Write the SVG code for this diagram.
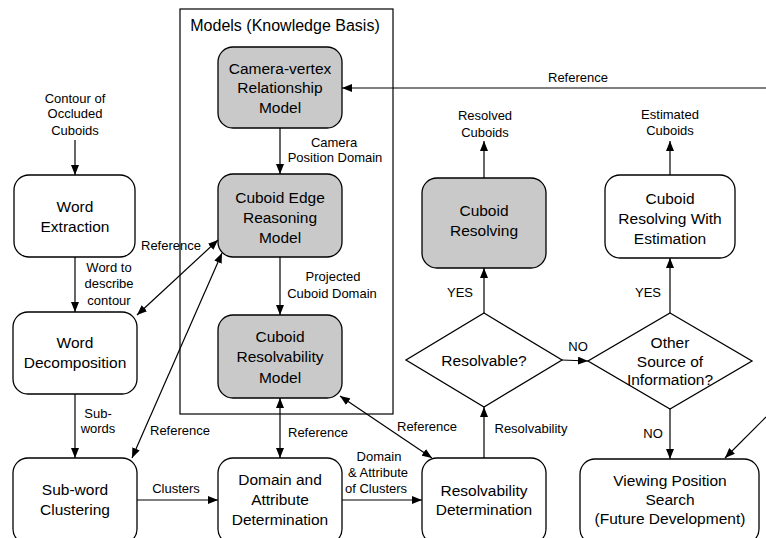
<svg xmlns="http://www.w3.org/2000/svg" width="766" height="538" viewBox="0 0 766 538">
<style>
.box{fill:#fff;stroke:#000;stroke-width:1.3}
.gray{fill:#c9c9c9;stroke:#000;stroke-width:1.3}
.frame{fill:none;stroke:#000;stroke-width:1.2}
.t{font-family:"Liberation Sans",Arial,sans-serif;font-size:15.5px;text-anchor:middle;fill:#000}
.l{font-family:"Liberation Sans",Arial,sans-serif;font-size:13px;text-anchor:middle;fill:#000}
.c line{stroke:#000;stroke-width:1.2;fill:none}
.a{marker-end:url(#ah)}
.b{marker-end:url(#ah);marker-start:url(#ah)}
</style>
<defs>
<marker id="ah" markerUnits="userSpaceOnUse" markerWidth="10" markerHeight="8" refX="10" refY="4" orient="auto-start-reverse" viewBox="0 0 10 8">
<path d="M0,0 L10,4 L0,8 z" fill="#000"/>
</marker>
</defs>
<rect width="766" height="538" fill="#fff"/>

<g id="models-frame">
<rect class="frame" x="180" y="9" width="213" height="405"/>
<text class="t" x="285" y="31" style="font-size:16px">Models (Knowledge Basis)</text>
</g>

<g id="camera-vertex">
<rect class="gray" x="218" y="47" width="124" height="81" rx="15"/>
<text class="t" x="280" y="74">Camera-vertex</text>
<text class="t" x="280" y="93">Relationship</text>
<text class="t" x="280" y="113">Model</text>
</g>

<g id="edge-reasoning">
<rect class="gray" x="218" y="174" width="124" height="83" rx="15"/>
<text class="t" x="280" y="203">Cuboid Edge</text>
<text class="t" x="280" y="223">Reasoning</text>
<text class="t" x="280" y="243">Model</text>
</g>

<g id="resolvability-model">
<rect class="gray" x="218" y="315" width="124" height="83" rx="15"/>
<text class="t" x="280" y="342">Cuboid</text>
<text class="t" x="280" y="362">Resolvability</text>
<text class="t" x="280" y="383">Model</text>
</g>

<g id="contour-input">
<text class="l" x="75" y="103">Contour of</text>
<text class="l" x="75" y="118">Occluded</text>
<text class="l" x="75" y="135">Cuboids</text>
</g>

<g id="word-extraction">
<rect class="box" x="14" y="175" width="121" height="82" rx="15"/>
<text class="t" x="75" y="212">Word</text>
<text class="t" x="75" y="232">Extraction</text>
</g>

<g id="word-decomposition">
<rect class="box" x="13" y="312" width="124" height="82" rx="15"/>
<text class="t" x="75" y="348">Word</text>
<text class="t" x="75" y="368">Decomposition</text>
</g>

<g id="subword-clustering">
<rect class="box" x="13" y="458" width="124" height="86" rx="15"/>
<text class="t" x="75" y="495">Sub-word</text>
<text class="t" x="75" y="515">Clustering</text>
</g>

<g id="domain-attribute">
<rect class="box" x="218" y="458" width="124" height="86" rx="15"/>
<text class="t" x="280" y="485">Domain and</text>
<text class="t" x="280" y="505">Attribute</text>
<text class="t" x="280" y="525">Determination</text>
</g>

<g id="resolvability-determination">
<rect class="box" x="422" y="458" width="124" height="86" rx="15"/>
<text class="t" x="484" y="496">Resolvability</text>
<text class="t" x="484" y="515">Determination</text>
</g>

<g id="resolvable-decision">
<polygon class="box" points="484,313 562,360 484,407 406,360"/>
<text class="t" x="484" y="366">Resolvable?</text>
</g>

<g id="cuboid-resolving">
<rect class="gray" x="422" y="178" width="124" height="90" rx="15"/>
<text class="t" x="484" y="216">Cuboid</text>
<text class="t" x="484" y="236">Resolving</text>
</g>

<g id="resolved-output">
<text class="l" x="485" y="120">Resolved</text>
<text class="l" x="485" y="137">Cuboids</text>
</g>

<g id="other-source-decision">
<polygon class="box" points="670,313 752,361 670,409 588,361"/>
<text class="t" x="670" y="348">Other</text>
<text class="t" x="670" y="367">Source of</text>
<text class="t" x="670" y="385">Information?</text>
</g>

<g id="resolving-estimation">
<rect class="box" x="605" y="175" width="130" height="83" rx="15"/>
<text class="t" x="670" y="204">Cuboid</text>
<text class="t" x="670" y="224">Resolving With</text>
<text class="t" x="670" y="244">Estimation</text>
</g>

<g id="estimated-output">
<text class="l" x="670" y="119">Estimated</text>
<text class="l" x="670" y="135">Cuboids</text>
</g>

<g id="viewing-position-search">
<rect class="box" x="580" y="459" width="179" height="85" rx="15"/>
<text class="t" x="670" y="486">Viewing Position</text>
<text class="t" x="670" y="505">Search</text>
<text class="t" x="670" y="524">(Future Development)</text>
</g>

<g id="connectors" class="c">
<line class="a" x1="75" y1="140" x2="75" y2="175"/>
<line class="a" x1="75" y1="257" x2="75" y2="312"/>
<line class="a" x1="75" y1="394" x2="75" y2="458"/>
<line class="a" x1="280" y1="128" x2="280" y2="174"/>
<line class="a" x1="280" y1="257" x2="280" y2="315"/>
<line class="b" x1="137" y1="315" x2="218" y2="240"/>
<line class="b" x1="132" y1="458" x2="222" y2="253"/>
<line class="b" x1="280" y1="398" x2="280" y2="458"/>
<line class="b" x1="340" y1="396" x2="432" y2="458"/>
<line class="a" x1="137" y1="500" x2="218" y2="500"/>
<line class="a" x1="342" y1="500" x2="422" y2="500"/>
<line class="a" x1="484" y1="458" x2="484" y2="407"/>
<line class="a" x1="484" y1="313" x2="484" y2="268"/>
<line class="a" x1="484" y1="178" x2="484" y2="141"/>
<line class="a" x1="562" y1="360" x2="588" y2="361"/>
<line class="a" x1="670" y1="313" x2="670" y2="258"/>
<line class="a" x1="670" y1="175" x2="670" y2="141"/>
<line class="a" x1="670" y1="409" x2="670" y2="459"/>
<line class="a" x1="766" y1="88" x2="342" y2="88"/>
<line class="a" x1="766" y1="417" x2="725" y2="458"/>
</g>

<g id="connector-labels">
<text class="l" x="109" y="272">Word to</text>
<text class="l" x="109" y="288">describe</text>
<text class="l" x="109" y="305">contour</text>
<text class="l" x="98" y="418">Sub-</text>
<text class="l" x="98" y="433">words</text>
<text class="l" x="334" y="147">Camera</text>
<text class="l" x="335" y="162">Position Domain</text>
<text class="l" x="333" y="281">Projected</text>
<text class="l" x="332" y="298">Cuboid Domain</text>
<text class="l" x="171" y="250">Reference</text>
<text class="l" x="180" y="435">Reference</text>
<text class="l" x="318" y="437">Reference</text>
<text class="l" x="427" y="431">Reference</text>
<text class="l" x="176" y="493">Clusters</text>
<text class="l" x="379" y="461">Domain</text>
<text class="l" x="378" y="477">&amp; Attribute</text>
<text class="l" x="376" y="493">of Clusters</text>
<text class="l" x="531" y="433">Resolvability</text>
<text class="l" x="460" y="297">YES</text>
<text class="l" x="648" y="297">YES</text>
<text class="l" x="578" y="351">NO</text>
<text class="l" x="653" y="438">NO</text>
<text class="l" x="578" y="82">Reference</text>
</g>
</svg>
